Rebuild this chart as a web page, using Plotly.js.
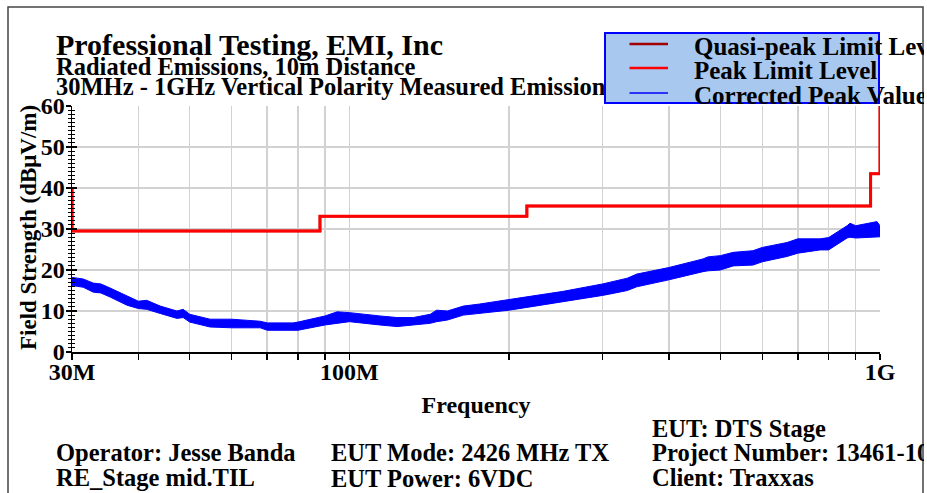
<!DOCTYPE html>
<html>
<head>
<meta charset="utf-8">
<script src="https://cdn.plot.ly/plotly-3.0.1.min.js"></script>
<style>
  html, body { margin: 0; padding: 0; background: #ffffff; overflow: hidden; }
  #chart { width: 924px; height: 493px; }
</style>
</head>
<body>
<div id="chart"></div>
<script>
// ---- data (frequency in MHz, level in dBµV/m) ----
const limitFreq = [30, 30, 88, 88, 216, 216, 960, 960, 1000, 1000];
const peakLimit = [40, 29.5, 29.5, 33.1, 33.1, 35.6, 35.6, 43.5, 43.5, 60];
const qpLimit   = [40, 29.5, 29.5, 33.1, 33.1, 35.6, 35.6, 43.5, 43.5, 60];

const measFreq = [30, 31.5, 32.9, 34, 35.4, 38.1, 40, 41.5, 44, 47.3, 48.6, 50, 54.6, 60, 67.9,
  70, 78.3, 80, 90, 94.8, 100, 114, 123, 132, 142, 146, 153, 164, 176, 200, 219, 253, 300, 317, 334,
  348, 400, 464, 474, 500, 529, 576, 600, 668, 700, 771, 800, 867, 878, 900, 987, 1000];
const peakLow = [16.2, 15.8, 14.6, 14.4, 13.4, 11.4, 10.6, 10.4, 9.4, 8.2, 8.4, 7.3, 6.1, 5.9, 5.9,
  5.3, 5.3, 5.3, 6.6, 7.0, 7.4, 6.6, 6.2, 6.6, 7.0, 7.4, 7.8, 9.0, 9.4, 10.2, 11.0, 12.2, 13.8, 14.4, 15.0,
  15.9, 17.6, 19.6, 19.8, 20.0, 21.0, 21.2, 22.0, 23.3, 24.1, 24.9, 24.9, 27.8, 28.0, 27.8, 28.1, 28.1];
const peakHigh = [18.2, 17.8, 16.8, 16.6, 15.6, 13.6, 12.4, 12.6, 11.2, 10.0, 10.4, 9.2, 8.0, 8.0, 7.5,
  7.1, 7.1, 7.3, 8.8, 9.8, 9.6, 8.8, 8.4, 8.4, 9.2, 10.2, 10.0, 11.2, 11.7, 12.8, 13.6, 14.8, 16.6, 17.4, 18.0,
  19.0, 20.6, 22.7, 23.2, 23.5, 24.3, 24.7, 25.5, 26.7, 27.6, 27.6, 27.9, 30.8, 31.4, 30.8, 31.8, 30.8];

const xTickVals = [30, 40, 50, 60, 70, 80, 90, 100, 200, 300, 400, 500, 600, 700, 800, 900, 1000];
const xTickText = ['30M', '', '', '', '', '', '', '100M', '', '', '', '', '', '', '', '', '1G'];
const yTickVals = [0, 10, 20, 30, 40, 50, 60];

const legendNames = ['Quasi-peak Limit Level', 'Peak Limit Level', 'Corrected Peak Value'];
const titleLines = ['Professional Testing, EMI, Inc', 'Radiated Emissions, 10m Distance',
  '30MHz - 1GHz Vertical Polarity Measured Emission'];
const yTitle = 'Field Strength (dBμV/m)';
const xTitle = 'Frequency';
const infoText = [
  ['Operator: Jesse Banda', 'RE_Stage mid.TIL'],
  ['EUT Mode: 2426 MHz TX', 'EUT Power: 6VDC'],
  ['EUT: DTS Stage', 'Project Number: 13461-10', 'Client: Traxxas']
];

// ---- layout helpers (pixel -> paper) ----
const W = 924, H = 493, PL = 72, PR = 880, PT = 106, PB = 352;
const px = x => (x - PL) / (PR - PL);
const py = y => (PB - y) / (PB - PT);
const FONT = 'Liberation Serif, Times New Roman, serif';
const txt = (text, x, y, size, extra) => Object.assign({
  text: text, xref: 'paper', yref: 'paper', x: px(x), y: py(y),
  xanchor: 'left', yanchor: 'middle', showarrow: false,
  font: {family: FONT, size: size, color: '#000', weight: 'bold'}
}, extra || {});

const BLUE = '#0000ff', RED = '#ff0000', DARKRED = '#a00000';

const traces = [
  {x: limitFreq, y: qpLimit, name: legendNames[0], mode: 'lines',
   line: {color: DARKRED, width: 2.5}, showlegend: false},
  {x: measFreq, y: peakLow, name: legendNames[2], mode: 'lines',
   line: {color: BLUE, width: 1}, showlegend: false},
  {x: measFreq, y: peakHigh, name: legendNames[2], mode: 'lines', fill: 'tonexty',
   fillcolor: BLUE, line: {color: BLUE, width: 1}, showlegend: false},
  {x: limitFreq, y: peakLimit, name: legendNames[1], mode: 'lines', yaxis: 'y2',
   line: {color: RED, width: 3}, showlegend: false}
];

const annotations = [];
// titles
annotations.push(txt(titleLines[0], 54, 45, 30));
annotations.push(txt(titleLines[1], 54, 66, 24.5));
annotations.push(txt(titleLines[2], 54, 86, 24.5));
// legend box (drawn above title line 3)
annotations.push({text: '\u00A0', xref: 'paper', yref: 'paper', x: px(604), y: py(32),
  xanchor: 'left', yanchor: 'top', showarrow: false, width: 272, height: 68, borderpad: 0,
  bgcolor: '#a8c8f0', bordercolor: BLUE, borderwidth: 2, font: {size: 10}});
const legColors = [DARKRED, RED, BLUE];
const legY = [44, 68, 93];
for (let i = 0; i < 3; i++) {
  annotations.push({text: '', xref: 'paper', yref: 'paper', x: px(668), y: py(legY[i]),
    ax: -40, ay: 0, showarrow: true, arrowhead: 0, arrowwidth: i === 2 ? 1.5 : 2.5,
    arrowcolor: legColors[i], standoff: 0, startstandoff: 0});
  annotations.push(txt(legendNames[i], 692, legY[i] + 2, 25));
}
// y axis title
annotations.push(txt(yTitle, 28, 228, 23, {xanchor: 'center', textangle: -90}));
// info text at bottom
const INFO = 24.5;
annotations.push(txt(infoText[0][0], 54, 452, INFO));
annotations.push(txt(infoText[0][1], 54, 477, INFO));
annotations.push(txt(infoText[1][0], 329, 452, INFO));
annotations.push(txt(infoText[1][1], 329, 479, INFO));
annotations.push(txt(infoText[2][0], 650, 428, INFO));
annotations.push(txt(infoText[2][1], 650, 452, INFO));
annotations.push(txt(infoText[2][2], 650, 477, INFO));

const tickFont = {family: FONT, size: 24, color: '#000', weight: 'bold'};

const layout = {
  width: W, height: H,
  margin: {l: PL, r: W - PR, t: PT, b: H - PB, pad: 0},
  paper_bgcolor: '#ffffff', plot_bgcolor: '#ffffff',
  showlegend: false,
  xaxis: {
    type: 'log', range: [Math.log10(30), 3],
    tickmode: 'array', tickvals: xTickVals, ticktext: xTickText,
    ticks: 'outside', ticklen: 6, tickwidth: 1.5, tickcolor: '#000',
    showgrid: true, gridcolor: '#d2d2d2', gridwidth: 1.5,
    showline: true, linecolor: '#000', linewidth: 1.5, zeroline: false,
    tickfont: tickFont, ticklabelstandoff: -8,
    title: {text: xTitle, font: {family: FONT, size: 24, color: '#000', weight: 'bold'}, standoff: 12}
  },
  yaxis: {
    range: [0, 60], tickmode: 'array', tickvals: yTickVals,
    ticks: 'outside', ticklen: 5, tickwidth: 1.5, tickcolor: '#000',
    minor: {dtick: 1, ticks: 'outside', ticklen: 3, tickcolor: '#000', tickwidth: 1, showgrid: false},
    showgrid: true, gridcolor: '#d2d2d2', gridwidth: 1.5,
    showline: true, linecolor: '#000', linewidth: 1.5, zeroline: false,
    tickfont: tickFont, ticklabelstandoff: -4
  },
  yaxis2: {
    range: [0, 60], overlaying: 'y', side: 'left', tickmode: 'array', tickvals: yTickVals,
    ticks: 'inside', ticklen: 5, tickwidth: 1.5, tickcolor: '#000',
    minor: {dtick: 1, ticks: 'inside', ticklen: 3, tickcolor: '#000', tickwidth: 1, showgrid: false},
    showgrid: false, showticklabels: false, showline: false, zeroline: false
  },
  shapes: [
    {type: 'rect', xref: 'paper', yref: 'paper', x0: px(8), x1: px(923), y0: py(500), y1: py(7),
     line: {color: '#444', width: 1.5}, fillcolor: 'rgba(0,0,0,0)', layer: 'below'}
  ],
  annotations: annotations
};

Plotly.newPlot('chart', traces, layout, {displayModeBar: false, staticPlot: true});
</script>
</body>
</html>
